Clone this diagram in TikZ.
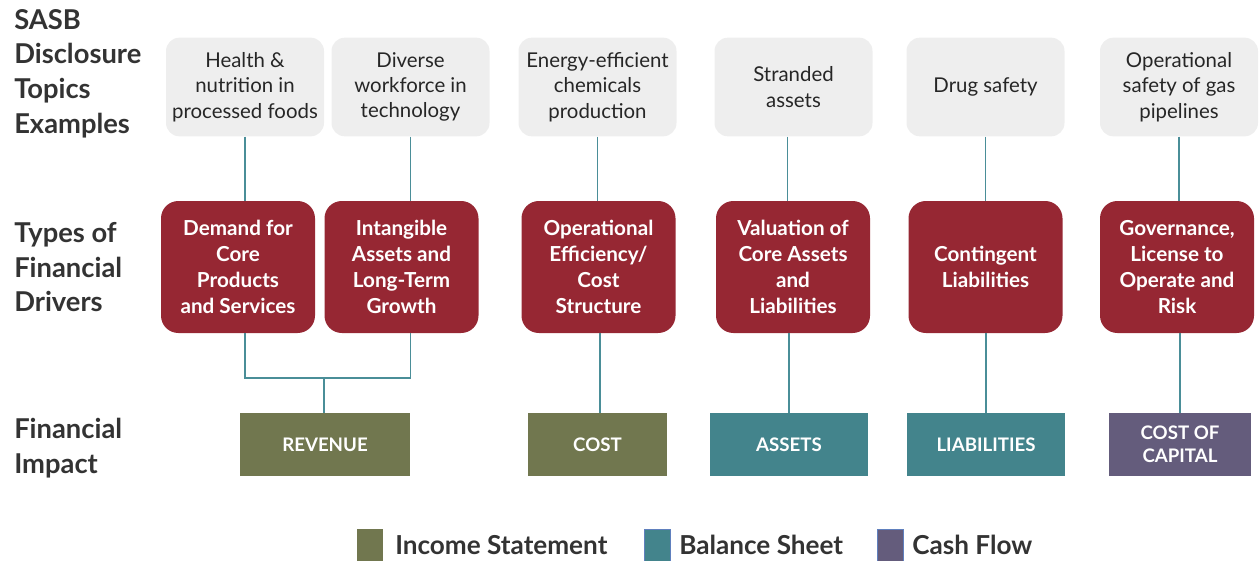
\documentclass[tikz,border=0pt]{standalone}
\usepackage{fontspec}
\setmainfont{Lato}
\usepackage{tikz}
\usetikzlibrary{positioning}
\definecolor{topicgray}{RGB}{238,238,238}
\definecolor{driverred}{RGB}{150,39,51}
\definecolor{incomeolive}{RGB}{113,119,79}
\definecolor{balanceteal}{RGB}{67,132,140}
\definecolor{cashpurple}{RGB}{100,92,124}
\definecolor{linkteal}{RGB}{74,142,152}
\definecolor{keyedge}{RGB}{96,128,190}
\definecolor{labeldark}{RGB}{51,51,51}

\begin{document}
\begin{tikzpicture}[
    x=0.75pt, y=-0.75pt,
    rowlabel/.style={anchor=north west, align=left, font=\fontsize{20.5}{26}\selectfont\bfseries, text=labeldark, inner sep=0pt},
    topic/.style={fill=topicgray, rounded corners=10pt, minimum width=118.5pt, minimum height=74pt, align=center, font=\fontsize{15.3}{19}\selectfont, text=black!85, inner sep=0pt},
    driver/.style={fill=driverred, rounded corners=13pt, minimum width=115.5pt, minimum height=99pt, align=center, font=\fontsize{15.5}{19.5}\selectfont\bfseries, text=white, inner sep=0pt},
    impact/.style={minimum height=47pt, align=center, font=\fontsize{14}{17}\selectfont\bfseries, text=white, inner sep=0pt},
    key/.style={minimum width=19.5pt, minimum height=24pt, inner sep=0pt},
    keytext/.style={anchor=base west, font=\fontsize{19.6}{24}\selectfont\bfseries, text=labeldark, inner sep=0pt},
    link/.style={draw=linkteal, line width=0.8pt}
]
    \useasboundingbox (0,0) rectangle (1259,560);

    % Row labels
    \node (sasb) [rowlabel] at (14,9) {SASB\\Disclosure\\Topics\\Examples};
    \node (types) [rowlabel] at (14,222) {Types of\\Financial\\Drivers};
    \node (fin) [rowlabel] at (14,418) {Financial\\Impact};

    % Topic examples
    \node (health) [topic] at (245,87) {Health \&\\nutrition in\\processed foods};
    \node (workforce) [topic] at (410.5,87) {Diverse\\workforce in\\technology};
    \node (chemicals) [topic] at (597.5,87) {Energy-efficient\\chemicals\\production};
    \node (stranded) [topic] at (793.5,87) {Stranded\\assets};
    \node (drug) [topic] at (985.5,87) {Drug safety};
    \node (pipelines) [topic] at (1179,87) {Operational\\safety of gas\\pipelines};

    % Financial drivers
    \node (demand) [driver] at (238,267) {Demand for\\Core\\Products\\and Services};
    \node (intangible) [driver] at (401.5,267) {Intangible\\Assets and\\Long-Term\\Growth};
    \node (efficiency) [driver] at (598.5,267) {Operational\\Efficiency/\\Cost\\Structure};
    \node (valuation) [driver] at (793,267) {Valuation of\\Core Assets\\and\\Liabilities};
    \node (contingent) [driver] at (985.5,267) {Contingent\\Liabilities};
    \node (governance) [driver] at (1177,267) {Governance,\\License to\\Operate and\\Risk};

    % Financial impact
    \node (revenue) [impact, fill=incomeolive, minimum width=127.5pt] at (325,444.5) {REVENUE};
    \node (cost) [impact, fill=incomeolive, minimum width=104pt] at (597.5,444.5) {COST};
    \node (assets) [impact, fill=balanceteal, minimum width=118.5pt] at (789,444.5) {ASSETS};
    \node (liabilities) [impact, fill=balanceteal, minimum width=118.5pt] at (986,444.5) {LIABILITIES};
    \node (capital) [impact, fill=cashpurple, minimum width=106pt] at (1180,444.5) {COST OF\\CAPITAL};

    % Legend
    \node (incomekey) [key, fill=incomeolive] at (370,545) {};
    \node (incometext) [keytext] at (395,554) {Income Statement};
    \node (balancekey) [key, fill=balanceteal, draw=keyedge, line width=0.5pt] at (657.5,545) {};
    \node (balancetext) [keytext] at (679,554) {Balance Sheet};
    \node (cashkey) [key, fill=cashpurple, draw=keyedge, line width=0.5pt] at (890.5,545) {};
    \node (cashtext) [keytext] at (912,554) {Cash Flow};

    % Links
    \draw [link] (health.south) -- (health.south |- demand.north);
    \draw [link] (workforce.south) -- (workforce.south |- intangible.north);
    \draw [link] (chemicals.south) -- (chemicals.south |- efficiency.north);
    \draw [link] (stranded.south) ++(-6,0) coordinate (strandedfoot) -- (strandedfoot |- valuation.north);
    \draw [link] (drug.south) -- (drug.south |- contingent.north);
    \draw [link] (pipelines.south) -- (pipelines.south |- governance.north);

    \coordinate (join) at (324,378);
    \draw [link] (health.south |- demand.south) -- (health.south |- join) -- (workforce.south |- join) -- (workforce.south |- intangible.south);
    \draw [link] (join) -- (join |- revenue.north);
    \draw [link] (efficiency.south -| 600,0) -- (cost.north -| 600,0);
    \draw [link] (assets.north |- valuation.south) -- (assets.north);
    \draw [link] (liabilities.north |- contingent.south) -- (liabilities.north);
    \draw [link] (capital.north |- governance.south) -- (capital.north);
\end{tikzpicture}
\end{document}
